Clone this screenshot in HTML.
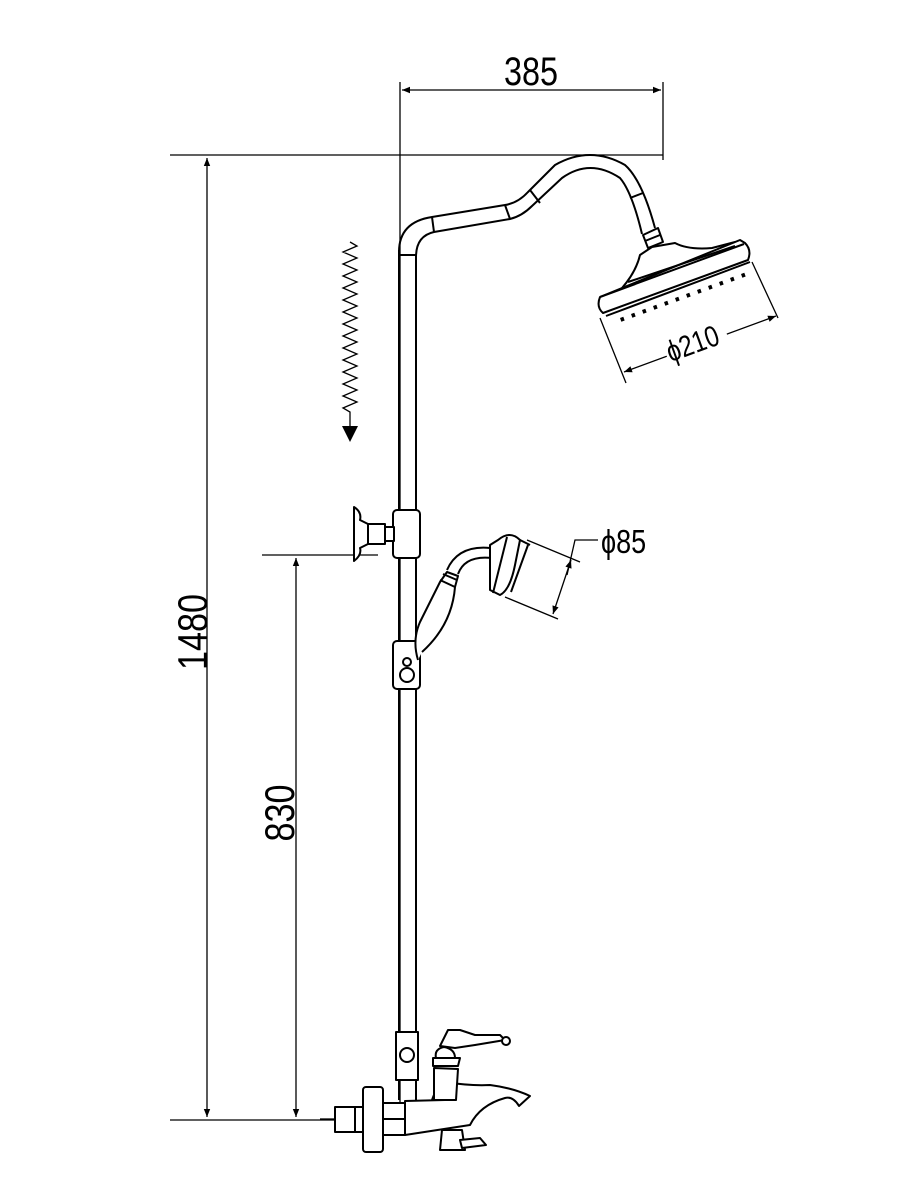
<!DOCTYPE html>
<html><head><meta charset="utf-8"><style>
html,body{margin:0;padding:0;background:#fff;}
svg{display:block;}
text{font-family:"Liberation Sans",Arial,sans-serif;fill:#000;}
</style></head><body>
<svg width="900" height="1200" viewBox="0 0 900 1200" xmlns="http://www.w3.org/2000/svg">
<defs>
<marker id="a" viewBox="0 0 10 10" refX="10" refY="5" markerWidth="14" markerHeight="8" orient="auto-start-reverse" markerUnits="userSpaceOnUse"><path d="M0,1 L10,5 L0,9 z" fill="#000"/></marker>
</defs>
<g stroke="#000" stroke-width="1.3" fill="none">
<line x1="400" y1="82" x2="400" y2="1118"/>
<line x1="663" y1="82" x2="663" y2="160"/>
<line x1="402" y1="90" x2="661" y2="90" marker-start="url(#a)" marker-end="url(#a)"/>
<line x1="170" y1="155" x2="663" y2="155"/>
<line x1="207" y1="158" x2="207" y2="1117" marker-start="url(#a)" marker-end="url(#a)"/>
<line x1="170" y1="1120" x2="345" y2="1120"/>
<line x1="262" y1="555" x2="378" y2="555"/>
<line x1="296" y1="558" x2="296" y2="1117" marker-start="url(#a)" marker-end="url(#a)"/>
</g>
<text transform="translate(531,85) scale(0.9,1.1)" font-size="36" text-anchor="middle">385</text>
<text transform="translate(207,632) rotate(-90) scale(0.9,1.1)" font-size="38" text-anchor="middle">1480</text>
<text transform="translate(294,813) rotate(-90) scale(0.9,1.1)" font-size="38" text-anchor="middle">830</text>

<g stroke="#000" stroke-width="2" fill="none" stroke-linejoin="round">
<line x1="399" y1="250" x2="399" y2="1095"/>
<line x1="416" y1="255" x2="416" y2="1095"/>
<path d="M399,252 Q399,222 432,217 L505,205 Q518,203 528,192 L555,165 Q590,145 625,165 Q642,180 655,228"/>
<path d="M416,257 Q416,236 434,232 L510,219 Q522,216 532,206 L562,178 Q590,158 620,178 Q632,192 642,234"/>
<line x1="432" y1="217" x2="434" y2="232"/>
<line x1="505" y1="205" x2="510" y2="219"/>
<line x1="530" y1="190" x2="540" y2="203"/>
<line x1="630" y1="198" x2="643" y2="193"/>
<line x1="399" y1="255" x2="416" y2="255"/>
<path d="M643,235 L658,228 L663,242 L648,248 Z"/>
<line x1="645" y1="241" x2="660" y2="235"/>
<!-- shower head dome -->
<path d="M622,288 Q636,272 640,255 L652,247 L675,243 Q688,250 712,248 L735,242" fill="#fff"/>
<path d="M600,297 Q596,307 603,313 L748,260 Q752,250 745,243 L740,240 Z" fill="#fff"/>
<line x1="600" y1="297" x2="744" y2="244"/>
<line x1="628" y1="282" x2="735" y2="246"/>
<path d="M606,316 L750,262"/>
</g>
<g fill="#000">
<rect x="620" y="318" width="3.5" height="4" transform="rotate(-20 620 318)"/>
<rect x="631" y="314" width="3.5" height="4" transform="rotate(-20 631 314)"/>
<rect x="642" y="310" width="3.5" height="4" transform="rotate(-20 642 310)"/>
<rect x="653" y="306" width="3.5" height="4" transform="rotate(-20 653 306)"/>
<rect x="664" y="302" width="3.5" height="4" transform="rotate(-20 664 302)"/>
<rect x="675" y="298" width="3.5" height="4" transform="rotate(-20 675 298)"/>
<rect x="686" y="294" width="3.5" height="4" transform="rotate(-20 686 294)"/>
<rect x="697" y="290" width="3.5" height="4" transform="rotate(-20 697 290)"/>
<rect x="708" y="286" width="3.5" height="4" transform="rotate(-20 708 286)"/>
<rect x="719" y="282" width="3.5" height="4" transform="rotate(-20 719 282)"/>
<rect x="730" y="278" width="3.5" height="4" transform="rotate(-20 730 278)"/>
<rect x="741" y="274" width="3.5" height="4" transform="rotate(-20 741 274)"/>
</g>
<g stroke="#000" stroke-width="1.3" fill="none">
<line x1="600" y1="318" x2="626" y2="383"/>
<line x1="752" y1="262" x2="778" y2="318"/>
<line x1="624" y1="372" x2="776" y2="316" marker-start="url(#a)" marker-end="url(#a)"/>
</g>
<rect x="664" y="325" width="64" height="36" fill="#fff" transform="rotate(-20 696 343)"/>
<text transform="translate(696,353) rotate(-20) scale(0.9,1.1)" font-size="27" text-anchor="middle">ϕ210</text>

<path d="M350,242 l7,4 l-14,6 l14,6 l-14,6 l14,6 l-14,6 l14,6 l-14,6 l14,6 l-14,6 l14,6 l-14,6 l14,6 l-14,6 l14,6 l-14,6 l14,6 l-14,6 l14,6 l-14,6 l14,6 l-14,6 l14,6 l-14,6 l14,6 l-14,6 l14,6 l-14,6 l7,4 L350,428" stroke="#000" stroke-width="1.3" fill="none"/>
<path d="M342,426 L358,426 L350,442 Z" fill="#000"/>

<g stroke="#000" stroke-width="2" fill="#fff" stroke-linejoin="round">
<rect x="393" y="510" width="27" height="48" rx="4"/>
<rect x="385" y="527" width="9" height="14"/>
<rect x="368" y="524" width="17" height="20"/>
<path d="M354,507 Q362,512 360,520 L368,524 L368,544 L360,548 Q362,555 354,561 Z"/>
<rect x="393" y="641" width="27" height="48" rx="4"/>
<circle cx="407" cy="675" r="7"/>
<circle cx="407" cy="662" r="4"/>
<path d="M418,660 Q412,640 420,622 L440,582 L447,572 L458,576 L455,587 Q452,625 422,652"/>
<path d="M447,570 Q458,545 490,548 L492,558 Q465,555 458,574"/>
<line x1="440" y1="580" x2="455" y2="587"/>
<line x1="443" y1="574" x2="457" y2="580"/>
<path d="M490,545 L498,540 Q510,530 520,540 L515,565 Q510,590 500,595 L490,590 Q490,570 490,545 Z"/>
<line x1="507" y1="537" x2="493" y2="593"/>
<line x1="520" y1="540" x2="530" y2="545"/>
<line x1="528" y1="545" x2="511" y2="592"/>
</g>
<g stroke="#000" stroke-width="1.3" fill="none">
<line x1="527" y1="540" x2="580" y2="562"/>
<line x1="505" y1="597" x2="558" y2="619"/>
<line x1="571" y1="560" x2="553" y2="614" marker-start="url(#a)" marker-end="url(#a)"/>
<polyline points="567,575 575,540 598,540"/>
</g>
<text transform="translate(601,553) scale(0.9,1.1)" font-size="30">ϕ85</text>

<g stroke="#000" stroke-width="2" fill="#fff" stroke-linejoin="round">
<rect x="396" y="1032" width="22" height="48"/>
<circle cx="407" cy="1055" r="7"/>
<line x1="399" y1="1080" x2="399" y2="1100"/>
<line x1="416" y1="1080" x2="416" y2="1100"/>
<rect x="383" y="1103" width="22" height="32"/>
<line x1="383" y1="1119" x2="405" y2="1119"/>
<rect x="363" y="1087" width="20" height="65" rx="3"/>
<rect x="335" y="1107" width="28" height="25"/>
<line x1="355" y1="1107" x2="355" y2="1132"/>
<path d="M405,1101 L445,1100 L432,1100 Q437,1085 445,1082 Q470,1086 490,1085 Q513,1088 530,1096 L519,1106 Q513,1096 505,1098 Q480,1105 470,1125 L405,1135 Z"/>
<path d="M436,1058 Q434,1049 444,1047 Q455,1049 455,1058 Z"/>
<path d="M434,1068 L458,1069 L456,1100 L434,1100 Z"/>
<path d="M433,1058 L460,1058 L458,1066 L433,1066 Z"/>
<path d="M440,1046 L448,1030 L460,1030 L475,1035 L500,1035 L505,1040 L475,1045 L455,1048 Z"/>
<circle cx="506" cy="1041" r="4"/>
<path d="M442,1130 L462,1130 L465,1150 L440,1150 Z"/>
<path d="M460,1140 L480,1138 L486,1145 L462,1148 Z"/>
</g>
<line x1="320" y1="1119" x2="335" y2="1119" stroke="#000" stroke-width="1.3"/>
</svg>
</body></html>
